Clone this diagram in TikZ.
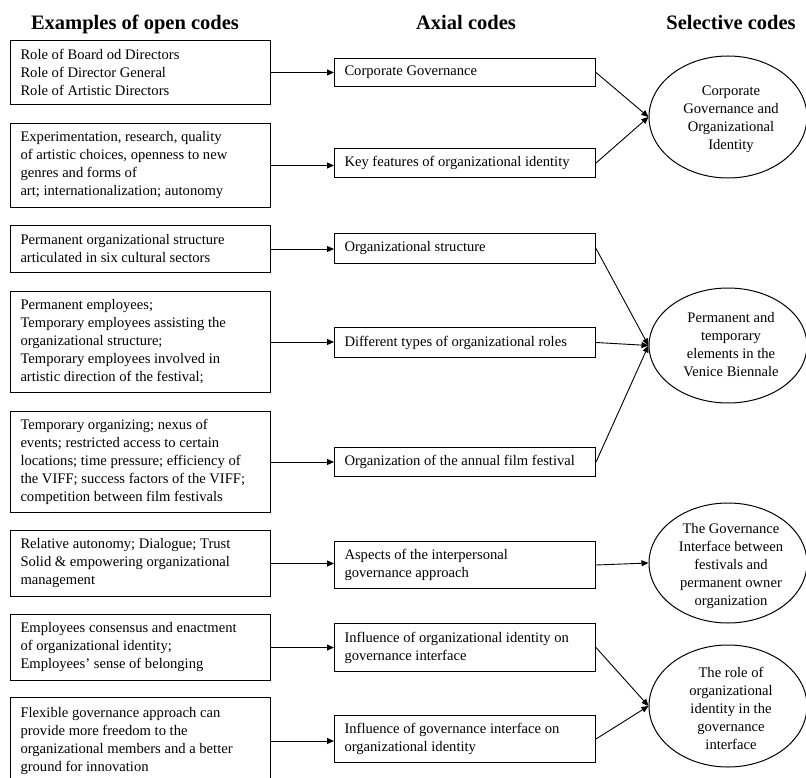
\documentclass[tikz,border=0pt]{standalone}
\usepackage{fontspec}
\setmainfont{Liberation Serif}
\usetikzlibrary{arrows.meta,shapes.geometric,calc}
\newcommand\bodyfs{\fontsize{14.6}{18}\selectfont}
\newcommand\headfs{\fontsize{20.5}{24}\selectfont\bfseries}
\begin{document}
\begin{tikzpicture}[x=1pt,y=-1pt,
  lbox/.style={draw, line width=1pt, text width=240pt, inner xsep=10pt, inner ysep=0pt, align=flush left, anchor=north west, font=\bodyfs},
  mbox/.style={draw, line width=1pt, text width=241pt, inner xsep=10pt, inner ysep=0pt, align=flush left, anchor=north west, font=\bodyfs},
  oval/.style={draw, ellipse, line width=1pt, minimum width=158pt, inner sep=0pt},
  ovaltext/.style={align=center, font=\bodyfs, inner sep=0pt},
  head/.style={font=\headfs, anchor=base, inner sep=0pt},
  conn/.style={line width=0.9pt, -{Triangle[length=7pt,width=6pt]}},
]
\useasboundingbox (0,0) rectangle (806,778);

% headings
\node[head] (h1) at (135,30) {Examples of open codes};
\node[head] (h2) at (466,30) {Axial codes};
\node[head] (h3) at (731,30) {Selective codes};

% open codes
\node[lbox, minimum height=64pt]  (l1) at (10,40)  {Role of Board od Directors\\Role of Director General\\Role of Artistic Directors};
\node[lbox, minimum height=84pt]  (l2) at (10,123) {Experimentation, research, quality\\of artistic choices, openness to new\\genres and forms of\\art; internationalization; autonomy};
\node[lbox, minimum height=47pt]  (l3) at (10,225) {Permanent organizational structure\\articulated in six cultural sectors};
\node[lbox, minimum height=101pt] (l4) at (10,291) {Permanent employees;\\Temporary employees assisting the\\organizational structure;\\Temporary employees involved in\\artistic direction of the festival;};
\node[lbox, minimum height=101pt] (l5) at (10,411) {Temporary organizing; nexus of\\events; restricted access to certain\\locations; time pressure; efficiency of\\the VIFF; success factors of the VIFF;\\competition between film festivals};
\node[lbox, minimum height=66pt]  (l6) at (10,530) {Relative autonomy; Dialogue; Trust\\Solid \& empowering organizational\\management};
\node[lbox, minimum height=66pt]  (l7) at (10,614) {Employees consensus and enactment\\of organizational identity;\\Employees’ sense of belonging};
\node[lbox, minimum height=87pt]  (l8) at (10,697) {Flexible governance approach can\\provide more freedom to the\\organizational members and a better\\ground for innovation};

% axial codes
\node[mbox, minimum height=28pt] (m1) at (334,58)  {Corporate Governance};
\node[mbox, minimum height=29pt] (m2) at (334,148) {Key features of organizational identity};
\node[mbox, minimum height=30pt] (m3) at (334,233) {Organizational structure};
\node[mbox, minimum height=30pt] (m4) at (334,327) {Different types of organizational roles};
\node[mbox, minimum height=29pt] (m5) at (334,447) {Organization of the annual film festival};
\node[mbox, minimum height=47pt] (m6) at (334,541) {Aspects of the interpersonal\\governance approach};
\node[mbox, minimum height=48pt] (m7) at (334,623) {Influence of organizational identity on\\governance interface};
\node[mbox, minimum height=47pt] (m8) at (334,715) {Influence of governance interface on\\organizational identity};

% selective codes
\node[oval, minimum height=122pt] (e1) at (728,117) {};
\node[oval, minimum height=115pt] (e2) at (728,345.5) {};
\node[oval, minimum height=120pt] (e3) at (728,563) {};
\node[oval, minimum height=122pt] (e4) at (728,706) {};
\node[ovaltext] (e1t) at ($(e1)+(3,2)$) {Corporate\\Governance and\\Organizational\\Identity};
\node[ovaltext] (e2t) at ($(e2)+(3,-1)$) {Permanent and\\temporary\\elements in the\\Venice Biennale};
\node[ovaltext] (e3t) at ($(e3)+(3,3)$) {The Governance\\Interface between\\festivals and\\permanent owner\\organization};
\node[ovaltext] (e4t) at ($(e4)+(3,2)$) {The role of\\organizational\\identity in the\\governance\\interface};

% connectors open -> axial
\foreach \i in {1,...,8}{
  \draw[conn] (l\i.east) -- (l\i.east -| m\i.west);
}
% axial -> selective
\draw[conn] (m1.east) -- (e1.west);
\draw[conn] (m2.east) -- (e1.west);
\draw[conn] (m3.east) -- (e2.west);
\draw[conn] (m4.east) -- (e2.west);
\draw[conn] (m5.east) -- (e2.west);
\draw[conn] (m6.east) -- (e3.west);
\draw[conn] (m7.east) -- (e4.west);
\draw[conn] (m8.east) -- (e4.west);
\end{tikzpicture}
\end{document}
